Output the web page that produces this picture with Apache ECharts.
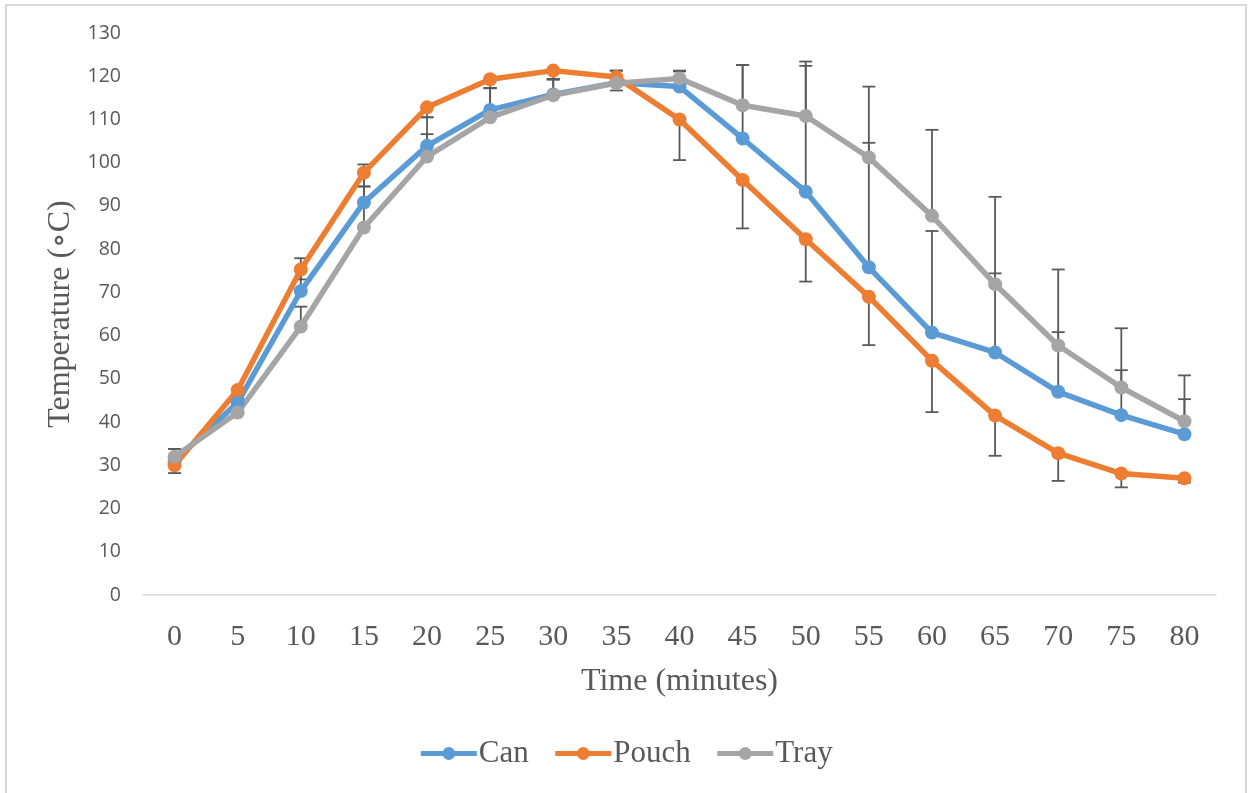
<!DOCTYPE html>
<html>
<head>
<meta charset="utf-8">
<script src="https://cdn.jsdelivr.net/npm/echarts@6/dist/echarts.min.js"></script>
<style>
html,body{margin:0;padding:0;background:#fff;}
#main{width:1251px;height:793px;}
</style>
</head>
<body>
<div id="main"></div>
<script>
var times = ['0','5','10','15','20','25','30','35','40','45','50','55','60','65','70','75','80'];
var can   = [31, 44.5, 70.3, 90.8, 103.9, 112.2, 115.8, 118.5, 117.6, 105.6, 93.3, 75.8, 60.7, 56.1, 47.0, 41.6, 37.2];
var pouch = [30, 47.4, 75.3, 97.7, 112.8, 119.3, 121.3, 119.8, 110.0, 96.0, 82.3, 69.0, 54.2, 41.5, 32.8, 28.1, 27.0];
var tray  = [32, 42.2, 62.1, 85.0, 101.4, 110.5, 115.6, 118.4, 119.5, 113.3, 110.8, 101.2, 87.7, 71.9, 57.7, 48.0, 40.2];
// error bar lengths (Can & Tray shown upward, Pouch shown downward)
var canErr   = [2.8, 1, 7.6, 8.8, 2.7, 5.0, 3.6, 2.8, 3.7, 17.0, 29.1, 28.8, 23.5, 18.3, 13.8, 10.4, 8.1];
var pouchErr = [1.8, 1, 2.3, 3.2, 2.3, 2.0, 2.0, 3.1, 9.4, 11.2, 9.8, 11.2, 11.9, 9.3, 6.4, 3.2, 1];
var trayErr  = [1.8, 1, 4.6, 9.5, 9.1, 6.8, 3.6, 2.9, 1.6, 9.3, 12.6, 16.4, 19.9, 20.2, 17.6, 13.7, 10.6];
var yTicks = {min: 0, max: 130, interval: 10};

var chart = echarts.init(document.getElementById('main'), null, {renderer: 'canvas'});

function errData(vals, errs, sign) {
  return vals.map(function (v, i) { return [i, v, v + sign * errs[i]]; });
}
function renderErr(params, api) {
  var i = api.value(0);
  var p0 = api.coord([i, api.value(1)]);
  var p1 = api.coord([i, api.value(2)]);
  var hw = 6.5;
  var st = {stroke: '#595959', lineWidth: 1.8};
  return {
    type: 'group',
    children: [
      {type: 'line', shape: {x1: p0[0], y1: p0[1], x2: p1[0], y2: p1[1]}, style: st},
      {type: 'line', shape: {x1: p1[0] - hw, y1: p1[1], x2: p1[0] + hw, y2: p1[1]}, style: st}
    ]
  };
}
function errSeries(vals, errs, sign) {
  return {
    type: 'custom',
    renderItem: renderErr,
    data: errData(vals, errs, sign),
    encode: {x: 0, y: [1, 2]},
    z: 1,
    silent: true
  };
}
function lineSeries(name, data, color) {
  return {
    name: name,
    type: 'line',
    data: data,
    symbol: 'circle',
    symbolSize: 14,
    lineStyle: {width: 5.5, color: color},
    itemStyle: {color: color},
    z: 3
  };
}

var serif = '"Liberation Serif", "DejaVu Serif", serif';
var option = {
  backgroundColor: '#fff',
  animation: false,
  graphic: [{
    type: 'rect',
    shape: {x: 6, y: 5, width: 1240, height: 800},
    style: {fill: 'none', stroke: '#d9d9d9', lineWidth: 2},
    silent: true
  }],
  grid: {left: 143, top: 33, width: 1073, height: 562},
  legend: {
    data: ['Can', 'Pouch', 'Tray'],
    left: 'center',
    top: 733,
    itemWidth: 56,
    itemHeight: 16,
    itemGap: 24,
    lineStyle: {width: 5},
    textStyle: {fontFamily: serif, fontSize: 31, color: '#595959', padding: [0, 0, 0, -3]}
  },
  xAxis: {
    type: 'category',
    data: times,
    boundaryGap: true,
    name: 'Time (minutes)',
    nameLocation: 'middle',
    nameGap: 71,
    nameTextStyle: {fontFamily: serif, fontSize: 32, color: '#595959'},
    axisLine: {lineStyle: {color: '#d9d9d9', width: 1.5}},
    axisTick: {show: false},
    axisLabel: {fontFamily: serif, fontSize: 30, color: '#595959', margin: 27}
  },
  yAxis: {
    type: 'value',
    min: yTicks.min,
    max: yTicks.max,
    interval: yTicks.interval,
    name: 'Temperature (\u2218C)',
    nameLocation: 'middle',
    nameGap: 65,
    nameTextStyle: {fontFamily: serif, fontSize: 32, color: '#595959'},
    axisLine: {show: false},
    axisTick: {show: false},
    splitLine: {show: false},
    axisLabel: {fontFamily: '"Open Sans", "Liberation Sans", sans-serif', fontSize: 19.5, color: '#595959', margin: 22}
  },
  series: [
    errSeries(can, canErr, 1),
    errSeries(pouch, pouchErr, -1),
    errSeries(tray, trayErr, 1),
    lineSeries('Can', can, '#5B9BD5'),
    lineSeries('Pouch', pouch, '#ED7D31'),
    lineSeries('Tray', tray, '#A5A5A5')
  ]
};
chart.setOption(option);
</script>
</body>
</html>
